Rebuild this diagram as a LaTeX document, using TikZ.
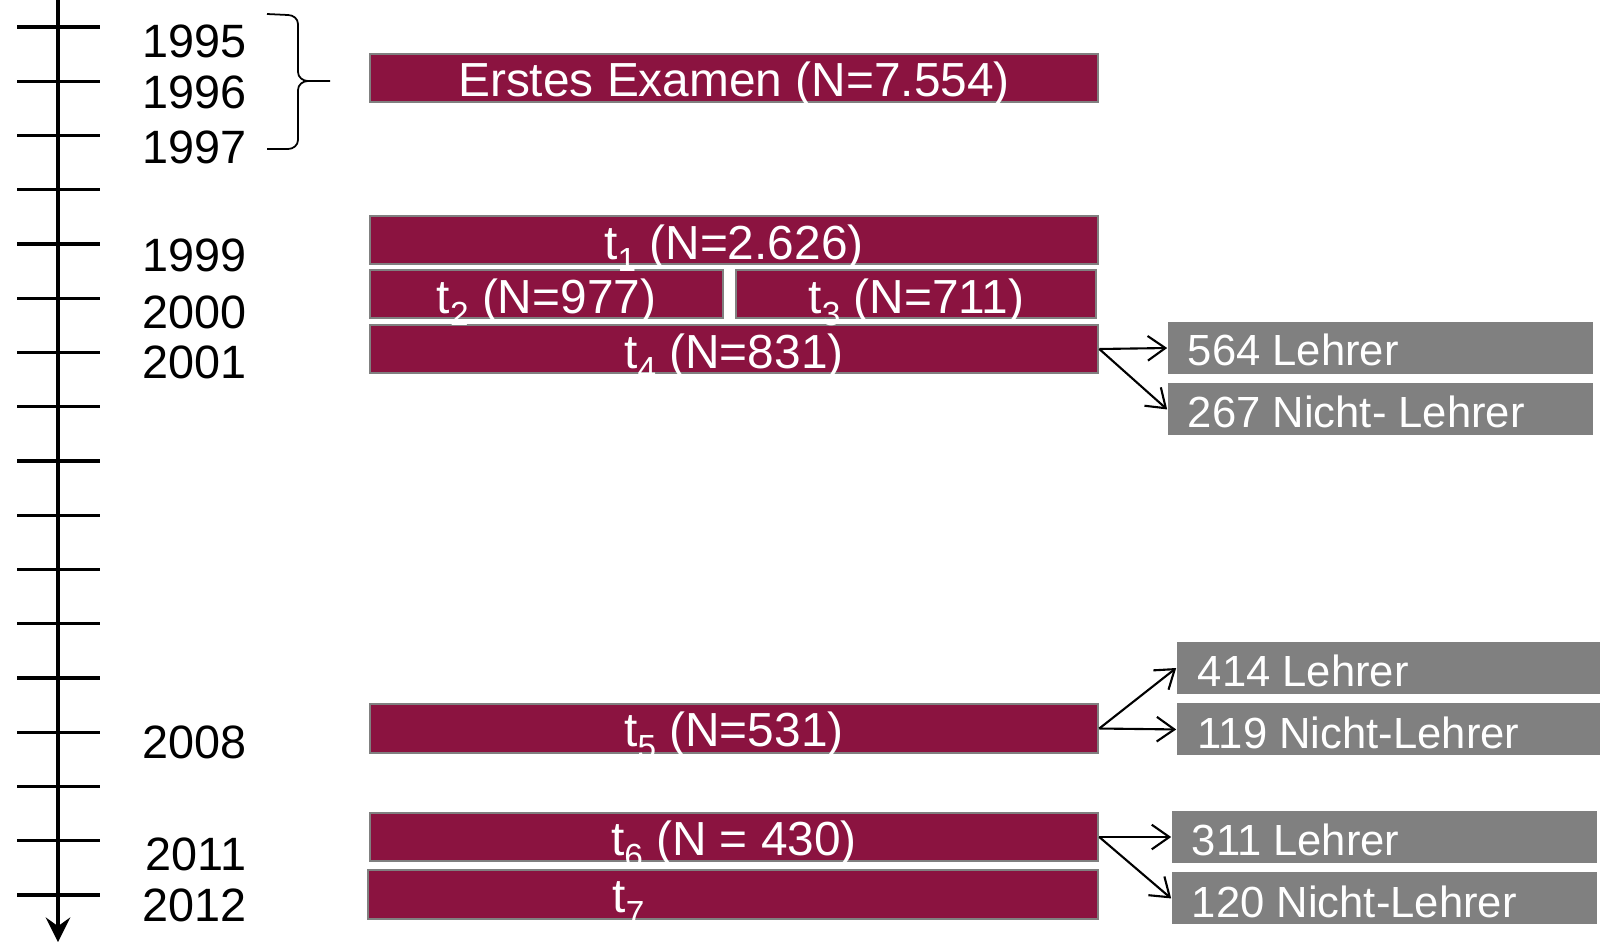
\documentclass[tikz,border=0pt]{standalone}
\usepackage{fontspec}
\setmainfont{Liberation Sans}
\usetikzlibrary{arrows.meta,positioning}
\definecolor{examred}{RGB}{139,19,64}
\definecolor{boxgray}{RGB}{128,128,128}
\newcommand{\tidx}[1]{t\raisebox{-0.26em}{\fontsize{9.5pt}{10pt}\selectfont #1}}

\begin{document}
\begin{tikzpicture}[x=0.01cm,y=-0.01cm,
    bar/.style={draw=boxgray,fill=examred,line width=0.6pt,inner sep=0pt,minimum height=0.48cm,minimum width=7.28cm},
    grp/.style={fill=boxgray,inner sep=0pt,minimum height=0.52cm,minimum width=4.25cm},
    bartext/.style={text=white,inner sep=0pt,anchor=base,font=\fontsize{13.6pt}{16pt}\selectfont},
    grptext/.style={text=white,inner sep=0pt,anchor=base west,font=\fontsize{12.4pt}{14pt}\selectfont},
    year/.style={inner sep=0pt,anchor=base east,font=\fontsize{13.3pt}{16pt}\selectfont},
    split/.style={-{Straight Barb[length=5pt,width=7pt]},line width=0.6pt}]
    \useasboundingbox (0,0) rectangle (1600,942);

    % time axis
    \coordinate (axtop) at (58,0);
    \coordinate (axbot) at (58,942);
    \draw[line width=0.9pt,-{Stealth[length=7pt,width=7pt,inset=2.5pt]}] (axtop) -- (axbot);
    \foreach \i in {0,...,16}
        \draw[line width=0.9pt] (17,{27+54.25*\i}) -- (100,{27+54.25*\i});
    \foreach \yr/\yb in {1995/57,1996/108,1997/163,1999/271,2000/328,2001/378,2008/758,2011/870,2012/921}
        \node[year] (y\yr) at (247,\yb) {\yr};

    % brace
    \draw[line width=0.5pt] (267,14) -- (288,15) to[out=0,in=90] (298,24) -- (298,72) to[out=-90,in=180] (308,81) -- (330,81);
    \draw[line width=0.5pt] (308,81) to[out=180,in=90] (298,90) -- (298,140) to[out=-90,in=0] (288,149) -- (267,149);

    % waves
    \node[bar] (exam) at (734,78) {};
    \node[bar] (t1) at (734,240) {};
    \node[bar,minimum width=3.53cm] (t2) at (546.5,294) {};
    \node[bar,minimum width=3.60cm,right=0.11cm of t2] (t3) {};
    \node[bar] (t4) at (734,349) {};
    \node[bar,minimum height=0.49cm] (t5) at (734,728.5) {};
    \node[bar] (t6) at (734,837) {};
    \node[bar,minimum width=7.30cm,minimum height=0.49cm] (t7) at (733,894.5) {};

    \node[bartext] (examlbl) at ([yshift=0.07cm]exam.south) {Erstes Examen (N=7.554)};
    \node[bartext] (t1lbl) at ([yshift=0.06cm]t1.south) {\tidx{1} (N=2.626)};
    \node[bartext] (t2lbl) at ([yshift=0.06cm]t2.south) {\tidx{2} (N=977)};
    \node[bartext] (t3lbl) at ([yshift=0.06cm]t3.south) {\tidx{3} (N=711)};
    \node[bartext] (t4lbl) at ([yshift=0.06cm]t4.south) {\tidx{4} (N=831)};
    \node[bartext] (t5lbl) at ([yshift=0.08cm]t5.south) {\tidx{5} (N=531)};
    \node[bartext] (t6lbl) at ([yshift=0.07cm]t6.south) {\tidx{6} (N = 430)};
    \node[bartext,anchor=base west] (t7lbl) at ([xshift=2.45cm,yshift=0.08cm]t7.south west) {\tidx{7}};

    % teachers / non-teachers
    \node[grp] (l4) at (1380.5,348) {};
    \node[grp,below=0.08cm of l4] (n4) {};
    \node[grp,minimum width=4.23cm] (l5) at (1388.5,668) {};
    \node[grp,minimum width=4.23cm,below=0.08cm of l5] (n5) {};
    \node[grp] (l6) at (1384.5,837) {};
    \node[grp,below=0.08cm of l6] (n6) {};

    \node[grptext] (l4lbl) at ([xshift=0.2cm,yshift=0.09cm]l4.south west) {564 Lehrer};
    \node[grptext] (n4lbl) at ([xshift=0.2cm,yshift=0.09cm]n4.south west) {267 Nicht- Lehrer};
    \node[grptext] (l5lbl) at ([xshift=0.21cm,yshift=0.08cm]l5.south west) {414 Lehrer};
    \node[grptext] (n5lbl) at ([xshift=0.21cm,yshift=0.08cm]n5.south west) {119 Nicht-Lehrer};
    \node[grptext] (l6lbl) at ([xshift=0.2cm,yshift=0.08cm]l6.south west) {311 Lehrer};
    \node[grptext] (n6lbl) at ([xshift=0.2cm,yshift=0.08cm]n6.south west) {120 Nicht-Lehrer};

    \draw[split] (t4.east) -- (l4.west);
    \draw[split] (t4.east) -- (n4.west);
    \draw[split] (t5.east) -- (l5.west);
    \draw[split] (t5.east) -- (n5.west);
    \draw[split] (t6.east) -- (l6.west);
    \draw[split] (t6.east) -- (n6.west);
\end{tikzpicture}
\end{document}
